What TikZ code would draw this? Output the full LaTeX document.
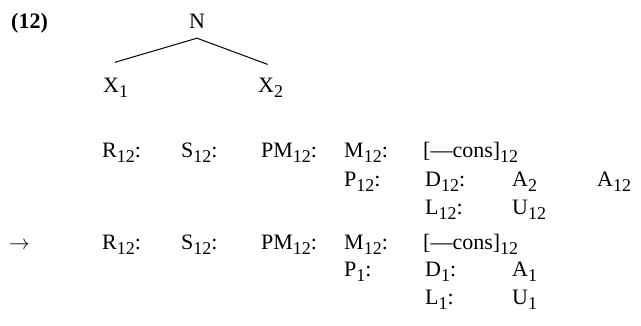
\documentclass[tikz,border=0pt]{standalone}
\usepackage{fontspec}
\setmainfont{Liberation Serif}
\usetikzlibrary{positioning}
\newcommand{\lsub}[1]{\raisebox{-5pt}{\fontsize{18}{18}\selectfont #1}}
\tikzset{
  lbl/.style={anchor=base west,inner sep=0pt,font=\fontsize{22}{26}\selectfont},
  branch/.style={line width=1pt},
}
\begin{document}
\begin{tikzpicture}[x=1pt,y=-1pt]
  \useasboundingbox (0,0) rectangle (641,326);
  % number and tree
  \node[lbl,font=\fontsize{22}{26}\selectfont\bfseries] (num) at (11,29) {(12)};
  \node[lbl,anchor=base] (n) at (197,29) {N};
  \node[lbl] (x1) at (103,93) {X\lsub{1}};
  \node[lbl] (x2) at (258,93) {X\lsub{2}};
  \draw[branch] ([yshift=-9pt]n.south) -- ([yshift=16pt,xshift=-1pt]x1.north);
  \draw[branch] ([yshift=-9pt]n.south) -- ([yshift=14pt,xshift=-3pt]x2.north);
  % rows repeated before and after the arrow
  \foreach \ry/\rn in {158/a,250/b}{
    \node[lbl] (r\rn) at (102,\ry) {R\lsub{12}:};
    \node[lbl] (s\rn) at (181,\ry) {S\lsub{12}:};
    \node[lbl] (pm\rn) at (261,\ry) {PM\lsub{12}:};
    \node[lbl] (m\rn) at (344,\ry) {M\lsub{12}:};
    \node[lbl] (cons\rn) at (423,\ry) {[\textemdash cons]\lsub{12}};
  }
  % before
  \node[lbl] (pa) at (344,187) {P\lsub{12}:};
  \node[lbl] (da) at (425,187) {D\lsub{12}:};
  \node[lbl] (aa) at (512,187) {A\lsub{2}};
  \node[lbl] (aab) at (597,187) {A\lsub{12}};
  \node[lbl] (la) at (425,215) {L\lsub{12}:};
  \node[lbl] (ua) at (512,215) {U\lsub{12}};
  % after
  \node[lbl] (arr) at (9,250) {$\rightarrow$};
  \node[lbl] (pb) at (344,277) {P\lsub{1}:};
  \node[lbl] (db) at (425,277) {D\lsub{1}:};
  \node[lbl] (ab) at (512,277) {A\lsub{1}};
  \node[lbl] (lb) at (425,305) {L\lsub{1}:};
  \node[lbl] (ub) at (512,305) {U\lsub{1}};
\end{tikzpicture}
\end{document}
